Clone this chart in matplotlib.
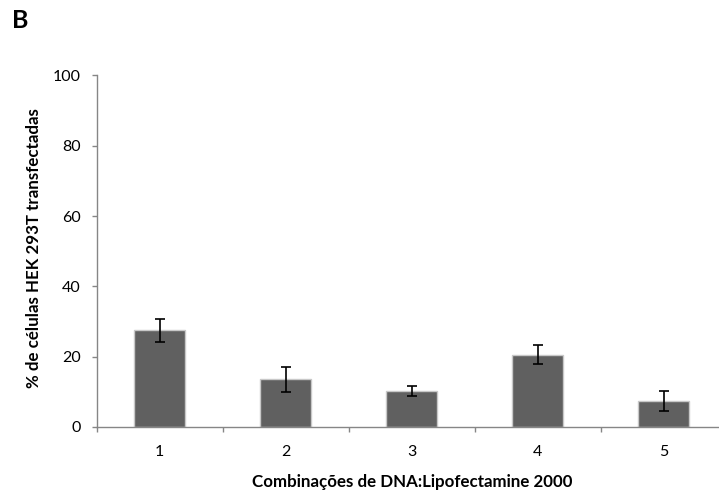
import numpy as np
import matplotlib.pyplot as plt

plt.rcParams['font.family'] = ['Lato', 'DejaVu Sans']

# data
categories = ['1', '2', '3', '4', '5']
values = [27.5, 13.6, 10.2, 20.6, 7.3]
errors = [3.3, 3.6, 1.4, 2.6, 2.8]

fig = plt.figure(figsize=(7.19, 4.93), dpi=100)
ax = fig.add_axes([0.1345, 0.1339, 0.8655, 0.713])

pos = np.arange(1, len(values) + 1)
ax.bar(pos, values, width=0.4, color='#606060', edgecolor='#c8c8c8', linewidth=1)
ax.errorbar(pos, values, yerr=errors, fmt='none', ecolor='black',
            elinewidth=1.2, capsize=3.6, capthick=1.2)

ax.set_xlim(0.5, 5.44)
ax.set_ylim(0, 100)
ax.set_yticks(np.arange(0, 101, 20))
ax.set_xticks(np.arange(0.5, 5.5, 1.0))
ax.set_xticklabels([])
ax.set_xticks(pos, minor=True)
ax.set_xticklabels(categories, minor=True)
ax.tick_params(axis='x', which='minor', length=0, pad=13, labelsize=11.5)
ax.tick_params(axis='x', which='major', length=3.6, color='#868686', width=1)
ax.tick_params(axis='y', length=3.6, color='#868686', width=1, labelsize=11.5, pad=8)

for s in ['top', 'right']:
    ax.spines[s].set_visible(False)
for s in ['left', 'bottom']:
    ax.spines[s].set_color('#868686')
    ax.spines[s].set_linewidth(1)

fig.text(34 / 719, 1 - 248 / 493, '% de células HEK 293T transfectadas',
         rotation=90, ha='center', va='center', fontsize=12.2, fontweight='bold')
fig.text(412 / 719, 1 - 482 / 493, 'Combinações de DNA:Lipofectamine 2000',
         ha='center', va='center', fontsize=12.2, fontweight='bold')
fig.text(12 / 719, 1 - 21 / 493, 'B', ha='left', va='center',
         fontsize=18, fontweight='bold')

fig.savefig('out.png', dpi=100)
